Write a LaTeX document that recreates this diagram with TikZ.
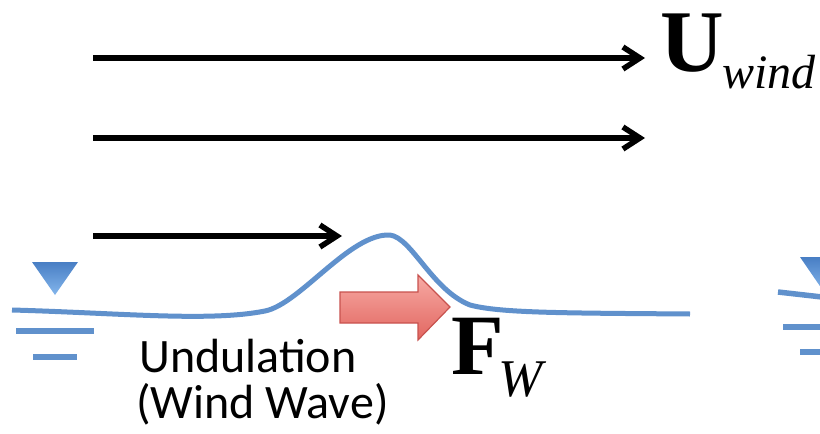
\documentclass[tikz,border=0pt]{standalone}
\usepackage{fontspec}
\setmainfont{Liberation Serif}
\newfontfamily\calfont{Carlito}
\usetikzlibrary{arrows.meta}
\definecolor{wblue}{RGB}{96,145,204}
\definecolor{tritop}{RGB}{72,126,196}
\definecolor{tribot}{RGB}{132,182,236}
\definecolor{redtop}{RGB}{247,170,164}
\definecolor{redbot}{RGB}{226,102,96}
\definecolor{redline}{RGB}{200,82,78}
\tikzset{
  windarrow/.style={line width=5.5pt, -{Straight Barb[length=17pt,width=22pt]}},
  wavepath/.style={wblue, line width=5pt, line join=round},
  levelline/.style={wblue, line width=5.5pt},
  levelmark/.style={draw=none, top color=tritop, bottom color=tribot},
  forcearrow/.style={draw=redline, line width=1.2pt, top color=redtop, bottom color=redbot, line join=miter},
  bigbold/.style={anchor=base west, inner sep=0pt, font=\fontsize{88}{88}\selectfont\bfseries},
  subital/.style={anchor=base west, inner sep=0pt, font=\fontsize{48}{48}\selectfont\itshape},
  caption/.style={anchor=base west, inner sep=0pt, font=\calfont\fontsize{48}{48}\selectfont}
}
\begin{document}
\begin{tikzpicture}[x=1pt,y=-1pt]
\useasboundingbox (0,0) rectangle (820,434);
\clip (0,0) rectangle (820,434);

% wind arrows
\coordinate (a1s) at (93,58);  \coordinate (a1e) at (645,58);
\coordinate (a2s) at (93,138); \coordinate (a2e) at (645,138);
\coordinate (a3s) at (93,236); \coordinate (a3e) at (342,236);
\draw[windarrow] (a1s) -- (a1e);
\draw[windarrow] (a2s) -- (a2e);
\draw[windarrow] (a3s) -- (a3e);

% labels U_wind
\node[bigbold] (U) at (660,71) {U};
\node[subital] (wind) at (722,88) {wind};

% wave
\draw[wavepath] (12,310) .. controls (120,313) and (210,322) .. (265,311)
  .. controls (300,304) and (350,233) .. (390,235)
  .. controls (412,238) and (432,290) .. (470,305)
  .. controls (500,313) and (560,313) .. (690,314);

% left water level mark
\path[levelmark] (32,262) -- (78,262) -- (55,295) -- cycle;
\draw[levelline] (16,331) -- (94,331);
\draw[levelline] (33,357) -- (77,357);

% right partial water level mark
\path[levelmark] (800,257) -- (848,257) -- (824,292) -- cycle;
\draw[levelline] (778,292) -- (822,297);
\draw[levelline] (783,327) -- (822,327);
\draw[levelline] (800,352) -- (822,352);

% force arrow
\path[forcearrow] (340,292) -- (418,292) -- (418,275) -- (450,307) -- (418,340) -- (418,323) -- (340,323) -- cycle;

% F_W
\node[bigbold, font=\fontsize{86}{86}\selectfont\bfseries] (F) at (451,374) {F};
\node[subital, font=\fontsize{53}{53}\selectfont\itshape] (W) at (498,396) {W};

% caption
\node[caption] (und) at (139,372) {Undulation};
\node[caption] (ww) at (136,418) {(Wind Wave)};
\end{tikzpicture}
\end{document}
